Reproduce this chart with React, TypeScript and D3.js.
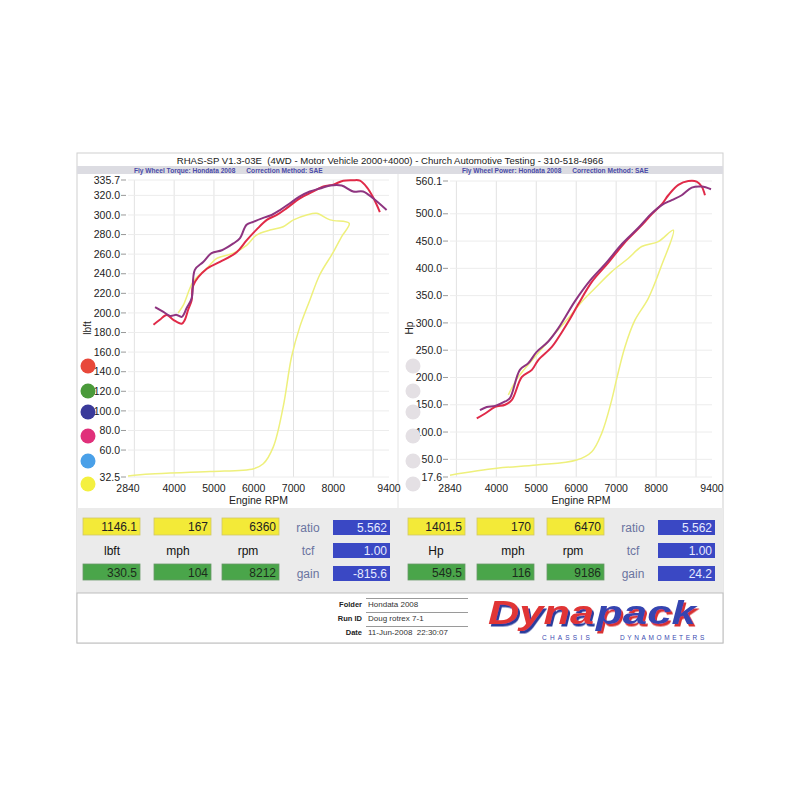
import React from "react";
import * as d3 from "d3";

// ---------- data ----------
const rpmTicks = [2840, 4000, 5000, 6000, 7000, 8000, 9400];
const rpmGrid = [3000, 4000, 5000, 6000, 7000, 8000, 9000];
const torqueTicks = [335.7, 320, 300, 280, 260, 240, 220, 200, 180, 160, 140, 120, 100, 80, 60, 32.5];
const powerTicks = [560.1, 500, 450, 400, 350, 300, 250, 200, 150, 100, 50, 17.6];

const torqueRed: [number, number][] = [
  [3480, 188], [3640, 193], [3810, 198], [3980, 193], [4190, 189], [4270, 193], [4350, 203], [4440, 213],
  [4480, 228], [4820, 245], [5150, 252], [5570, 262], [5820, 274], [6070, 285], [6330, 295], [6580, 300],
  [6830, 307], [7160, 317], [7500, 324], [7750, 329], [8000, 331], [8250, 335], [8500, 335.5], [8670, 335],
  [8850, 328], [9000, 318], [9170, 303],
];
const torquePurple: [number, number][] = [
  [3520, 206], [3730, 201], [3900, 197], [4060, 198], [4190, 196], [4315, 205], [4440, 215], [4520, 244],
  [4730, 252], [4940, 261], [5200, 264], [5490, 271], [5650, 276], [5820, 290], [5990, 293], [6240, 297],
  [6450, 300], [6660, 305], [6910, 312], [7160, 319], [7410, 324], [7660, 327], [7920, 330], [8210, 330],
  [8500, 324], [8750, 324], [9000, 317], [9340, 305],
];
const torqueYellow: [number, number][] = [
  [2840, 33.5], [3400, 35.5], [4900, 38], [6000, 41], [6240, 46], [6490, 63], [6740, 104], [6950, 155],
  [7160, 186], [7410, 213], [7660, 239], [8000, 262], [8210, 278], [8400, 291.5], [7920, 295], [7580, 301.7],
  [7330, 300], [7000, 295], [6740, 288], [6410, 284.6], [6070, 279.5], [5820, 269], [5490, 261], [5070, 255.6],
  [4820, 245.5], [4480, 232], [4230, 208], [4100, 200],
];

const powerRed: [number, number][] = [
  [3510, 125], [3720, 134], [3970, 146], [4220, 150], [4390, 159], [4640, 201], [4890, 214], [5050, 232],
  [5390, 256], [5640, 283], [5850, 308], [6050, 334], [6400, 376], [6800, 410], [7200, 446], [7600, 476],
  [7900, 500], [8150, 518], [8306, 534], [8557, 553], [8806, 560], [9017, 559], [9142, 550], [9224, 534],
];
const powerPurple: [number, number][] = [
  [3590, 140], [3760, 146], [3970, 148], [4220, 156], [4340, 162], [4590, 214], [4800, 226], [5010, 247],
  [5300, 266], [5550, 290], [5720, 310], [5970, 340], [6350, 378], [6750, 410], [7150, 445], [7550, 474],
  [7850, 498], [8141, 516], [8391, 525], [8641, 534], [8892, 548], [9142, 550], [9375, 545],
];
const powerYellow: [number, number][] = [
  [2840, 21], [4010, 33.5], [5010, 39.5], [6010, 48.7], [6390, 64], [6640, 98], [6890, 159], [7015, 198],
  [7220, 256], [7470, 305], [7805, 345], [8141, 406], [8432, 470], [8055, 449], [7640, 440], [7300, 418],
  [6890, 394], [6470, 363.5], [6140, 339], [5800, 308.5], [5470, 281], [4970, 238], [4550, 201], [4300, 168],
];

const leftDots = ["#e8483a", "#4a9a3a", "#3a3a9a", "#e0307a", "#4aa0e8", "#f4f040"];
const rightDots = ["#e4e0e4", "#e4e0e4", "#e4e0e4", "#e4e0e4", "#e4e0e4", "#e4e0e4"];

const leftYellow = ["1146.1", "167", "6360"];
const leftUnits = ["lbft", "mph", "rpm"];
const leftGreen = ["330.5", "104", "8212"];
const leftBlue = ["5.562", "1.00", "-815.6"];
const rightYellow = ["1401.5", "170", "6470"];
const rightUnits = ["Hp", "mph", "rpm"];
const rightGreen = ["549.5", "116", "9186"];
const rightBlue = ["5.562", "1.00", "24.2"];
const blueLabels = ["ratio", "tcf", "gain"];

const FONT = "'Liberation Sans', Arial, sans-serif";

type Pt = [number, number];

function Chart(props: {
  x0: number; x1: number; yTop: number; yBot: number; yDomain: [number, number];
  yTicks: number[]; yLabel: string; series: { data: Pt[]; color: string; w: number }[];
  dots: string[]; dotX: number; labelX: number;
}) {
  const x = d3.scaleLinear().domain([2840, 9400]).range([props.x0, props.x1]);
  const y = d3.scaleLinear().domain(props.yDomain).range([props.yBot, props.yTop]);
  const line = d3.line<Pt>().x(d => x(d[0])).y(d => y(d[1])).curve(d3.curveCatmullRom.alpha(0.5));
  const dotYs = [366, 391, 412, 436, 461, 484];
  return (
    <g>
      {rpmGrid.map(v => (
        <line key={"gx" + v} x1={x(v)} x2={x(v)} y1={props.yTop} y2={props.yBot} stroke="#e2e2e2" strokeWidth={1} />
      ))}
      {props.yTicks.map(v => (
        <g key={"gy" + v}>
          <line x1={props.x0} x2={props.x1} y1={y(v)} y2={y(v)} stroke="#ececec" strokeWidth={1} />
          <line x1={props.x0 - 7} x2={props.x0 - 2} y1={y(v)} y2={y(v)} stroke="#999" strokeWidth={1} />
          <text x={props.x0 - 8} y={y(v)} dy="0.35em" textAnchor="end" fontSize={10.5} fill="#222" fontFamily={FONT}>
            {v.toFixed(1)}
          </text>
        </g>
      ))}
      {rpmTicks.map(v => (
        <text key={"tx" + v} x={x(v)} y={492} textAnchor="middle" fontSize={10.5} fill="#222" fontFamily={FONT}>
          {v}
        </text>
      ))}
      <text x={(props.x0 + props.x1) / 2} y={504} textAnchor="middle" fontSize={10.5} fill="#222" fontFamily={FONT}>
        Engine RPM
      </text>
      <text transform={`translate(${props.labelX},328) rotate(-90)`} textAnchor="middle" fontSize={10} fill="#222" fontFamily={FONT}>
        {props.yLabel}
      </text>
      {props.dots.map((c, i) => (
        <circle key={"d" + i} cx={props.dotX} cy={dotYs[i]} r={7.5} fill={c} />
      ))}
      {props.series.map((s, i) => (
        <path key={"s" + i} d={line(s.data) || ""} fill="none" stroke={s.color} strokeWidth={s.w} strokeLinejoin="round" />
      ))}
    </g>
  );
}

function InfoBlock(props: { yellow: string[]; units: string[]; green: string[]; blue: string[]; unitXs: number[]; boxXs: number[]; labelX: number; blueX: number }) {
  const bw = 57;
  return (
    <g fontFamily={FONT}>
      {props.yellow.map((v, i) => (
        <g key={"y" + i}>
          <rect x={props.boxXs[i]} y={518} width={bw} height={17} fill="#f3ea38" stroke="#cfc76a" strokeWidth={0.8} />
          <text x={props.boxXs[i] + bw - 3} y={531} textAnchor="end" fontSize={12} fill="#222">{v}</text>
        </g>
      ))}
      {props.units.map((v, i) => (
        <text key={"u" + i} x={props.unitXs[i]} y={555} textAnchor="middle" fontSize={12} fill="#111">{v}</text>
      ))}
      {props.green.map((v, i) => (
        <g key={"g" + i}>
          <rect x={props.boxXs[i]} y={564} width={bw} height={16} fill="#4aa54a" stroke="#6a9a6a" strokeWidth={0.8} />
          <text x={props.boxXs[i] + bw - 3} y={576.5} textAnchor="end" fontSize={12} fill="#1c2c1c">{v}</text>
        </g>
      ))}
      {props.blue.map((v, i) => (
        <g key={"b" + i}>
          <rect x={props.blueX} y={520 + i * 23} width={57} height={15} fill="#3a48c4" />
          <text x={props.blueX + 54} y={532 + i * 23} textAnchor="end" fontSize={12} fill="#e6eaff">{v}</text>
          <text x={props.labelX} y={532 + i * 23} textAnchor="middle" fontSize={12} fill="#6a74a0">{blueLabels[i]}</text>
        </g>
      ))}
    </g>
  );
}

export default function App() {
  return (
    <svg width={800} height={800} style={{ position: "absolute", left: 0, top: 0, background: "#fff" }} fontFamily={FONT}>
      <defs>
        <filter id="shBlue" x="-10%" y="-10%" width="130%" height="140%">
          <feDropShadow dx={2} dy={2.5} stdDeviation={0} floodColor="#2c3c9c" />
        </filter>
        <filter id="shRed" x="-10%" y="-10%" width="130%" height="140%">
          <feDropShadow dx={2} dy={2.5} stdDeviation={0} floodColor="#d83030" />
        </filter>
      </defs>
      <rect x={0} y={0} width={800} height={800} fill="#fff" />
      {/* card */}
      <rect x={77} y={153} width={646} height={490} fill="#fff" stroke="#cfcfcf" strokeWidth={1} />
      {/* title */}
      <text x={390} y={164} textAnchor="middle" fontSize={9.6} fill="#222" style={{ whiteSpace: "pre" }}>
        {"RHAS-SP V1.3-03E  (4WD - Motor Vehicle 2000+4000) - Church Automotive Testing - 310-518-4966"}
      </text>
      <rect x={77} y={166} width={646} height={8} fill="#dcdce2" />
      <text x={134} y={172.5} fontSize={6.6} fontWeight="bold" fill="#4a4aa8" style={{ whiteSpace: "pre" }}>
        {"Fly Wheel Torque: Hondata 2008      Correction Method: SAE"}
      </text>
      <text x={462} y={172.5} fontSize={6.6} fontWeight="bold" fill="#4a4aa8" style={{ whiteSpace: "pre" }}>
        {"Fly Wheel Power: Hondata 2008      Correction Method: SAE"}
      </text>
      <line x1={398} x2={398} y1={174} y2={508} stroke="#e4e4e4" />

      <Chart x0={128} x1={389} yTop={180} yBot={477} yDomain={[32.5, 335.7]} yTicks={torqueTicks} yLabel="lbft"
        dots={leftDots} dotX={88} labelX={91}
        series={[
          { data: torqueYellow, color: "#eef07c", w: 1.5 },
          { data: torqueRed, color: "#e02a48", w: 2 },
          { data: torquePurple, color: "#8e3480", w: 2 },
        ]} />
      <Chart x0={450} x1={712} yTop={181} yBot={477} yDomain={[17.6, 560.1]} yTicks={powerTicks} yLabel="Hp"
        dots={rightDots} dotX={413} labelX={413}
        series={[
          { data: powerYellow, color: "#eef07c", w: 1.5 },
          { data: powerRed, color: "#e02a48", w: 2 },
          { data: powerPurple, color: "#8e3480", w: 2 },
        ]} />

      {/* info panel */}
      <rect x={77} y={508} width={646} height={85} fill="#ebebeb" />
      <InfoBlock yellow={leftYellow} units={leftUnits} green={leftGreen} blue={leftBlue}
        boxXs={[83, 154, 222]} unitXs={[112, 178, 248]} labelX={308} blueX={333} />
      <InfoBlock yellow={rightYellow} units={rightUnits} green={rightGreen} blue={rightBlue}
        boxXs={[408, 477, 547]} unitXs={[436, 513, 573]} labelX={633} blueX={658} />

      {/* footer */}
      <rect x={77} y={593} width={646} height={50} fill="#fff" stroke="#bdbdbd" />
      {["Folder", "Run ID", "Date"].map((t, i) => (
        <text key={t} x={362} y={607 + i * 14} textAnchor="end" fontSize={7.5} fontWeight="bold" fill="#222">{t}</text>
      ))}
      {["Hondata 2008", "Doug rotrex 7-1", "11-Jun-2008  22:30:07"].map((t, i) => (
        <g key={t}>
          <line x1={366} x2={468} y1={598.5 + i * 14} y2={598.5 + i * 14} stroke="#9a9a9a" />
          <text x={368} y={607 + i * 14} fontSize={8} fill="#333" style={{ whiteSpace: "pre" }}>{t}</text>
        </g>
      ))}
      {/* logo */}
      <g fontStyle="italic" fontWeight="bold" fontSize={33}>
        <text x={488} y={624} textLength={106} lengthAdjust="spacingAndGlyphs" fill="#e03434" filter="url(#shBlue)">Dyna</text>
        <text x={596} y={624} textLength={100} lengthAdjust="spacingAndGlyphs" fill="#3444b0" filter="url(#shRed)">pack</text>
      </g>
      <text x={542} y={640} fontSize={6.5} fill="#3a4ab0" letterSpacing={3.2}>CHASSIS</text>
      <text x={620} y={640} fontSize={6.5} fill="#3a4ab0" letterSpacing={2.6}>DYNAMOMETERS</text>
    </svg>
  );
}
